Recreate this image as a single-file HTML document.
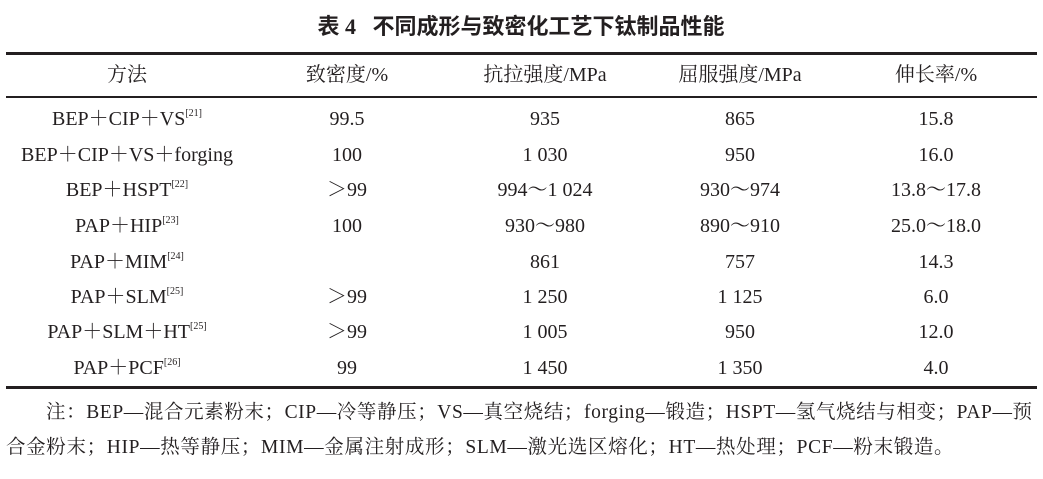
<!DOCTYPE html>
<html><head><meta charset="utf-8"><style>
body{margin:0;width:1043px;height:479px;background:#fff;position:relative;overflow:hidden;font-family:"Liberation Serif","Noto Serif CJK SC",serif;color:#231f20}
.t{position:absolute;white-space:nowrap;font-size:20px;line-height:24px;transform:translate(-50%,-50%)}
.l{position:absolute;left:6px;width:1031px;background:#231f20}
sup{font-size:10px;vertical-align:9px;line-height:0}
.n{position:absolute;white-space:nowrap;font-size:19.5px;line-height:24px}
</style></head><body>
<div class="t" style="left:521px;top:27px;font-size:22px;font-weight:bold;font-family:'Liberation Serif','Noto Sans CJK SC',sans-serif">表 4&nbsp;&nbsp;&nbsp;不同成形与致密化工艺下钛制品性能</div>
<div class="l" style="top:52px;height:3px"></div>
<div class="l" style="top:96px;height:1.5px"></div>
<div class="l" style="top:386px;height:3px"></div>
<div class="t" style="left:127px;top:75px">方法</div>
<div class="t" style="left:347px;top:75px">致密度/%</div>
<div class="t" style="left:545px;top:75px">抗拉强度/MPa</div>
<div class="t" style="left:740px;top:75px">屈服强度/MPa</div>
<div class="t" style="left:936px;top:75px">伸长率/%</div>

<div class="t" style="left:127px;top:119px">BEP＋CIP＋VS<sup>[21]</sup></div>
<div class="t" style="left:347px;top:119px">99.5</div><div class="t" style="left:545px;top:119px">935</div><div class="t" style="left:740px;top:119px">865</div><div class="t" style="left:936px;top:119px">15.8</div>

<div class="t" style="left:127px;top:155px">BEP＋CIP＋VS＋forging</div>
<div class="t" style="left:347px;top:155px">100</div><div class="t" style="left:545px;top:155px">1 030</div><div class="t" style="left:740px;top:155px">950</div><div class="t" style="left:936px;top:155px">16.0</div>

<div class="t" style="left:127px;top:190px">BEP＋HSPT<sup>[22]</sup></div>
<div class="t" style="left:347px;top:190px">＞99</div><div class="t" style="left:545px;top:190px">994～1 024</div><div class="t" style="left:740px;top:190px">930～974</div><div class="t" style="left:936px;top:190px">13.8～17.8</div>

<div class="t" style="left:127px;top:226px">PAP＋HIP<sup>[23]</sup></div>
<div class="t" style="left:347px;top:226px">100</div><div class="t" style="left:545px;top:226px">930～980</div><div class="t" style="left:740px;top:226px">890～910</div><div class="t" style="left:936px;top:226px">25.0～18.0</div>

<div class="t" style="left:127px;top:262px">PAP＋MIM<sup>[24]</sup></div>
<div class="t" style="left:545px;top:262px">861</div><div class="t" style="left:740px;top:262px">757</div><div class="t" style="left:936px;top:262px">14.3</div>

<div class="t" style="left:127px;top:297px">PAP＋SLM<sup>[25]</sup></div>
<div class="t" style="left:347px;top:297px">＞99</div><div class="t" style="left:545px;top:297px">1 250</div><div class="t" style="left:740px;top:297px">1 125</div><div class="t" style="left:936px;top:297px">6.0</div>

<div class="t" style="left:127px;top:332px">PAP＋SLM＋HT<sup>[25]</sup></div>
<div class="t" style="left:347px;top:332px">＞99</div><div class="t" style="left:545px;top:332px">1 005</div><div class="t" style="left:740px;top:332px">950</div><div class="t" style="left:936px;top:332px">12.0</div>

<div class="t" style="left:127px;top:368px">PAP＋PCF<sup>[26]</sup></div>
<div class="t" style="left:347px;top:368px">99</div><div class="t" style="left:545px;top:368px">1 450</div><div class="t" style="left:740px;top:368px">1 350</div><div class="t" style="left:936px;top:368px">4.0</div>

<div class="n" style="left:46px;top:401px;letter-spacing:0.6px">注：BEP—混合元素粉末；CIP—冷等静压；VS—真空烧结；forging—锻造；HSPT—氢气烧结与相变；PAP—预</div>
<div class="n" style="left:6px;top:436px;letter-spacing:0.65px">合金粉末；HIP—热等静压；MIM—金属注射成形；SLM—激光选区熔化；HT—热处理；PCF—粉末锻造。</div>
</body></html>
